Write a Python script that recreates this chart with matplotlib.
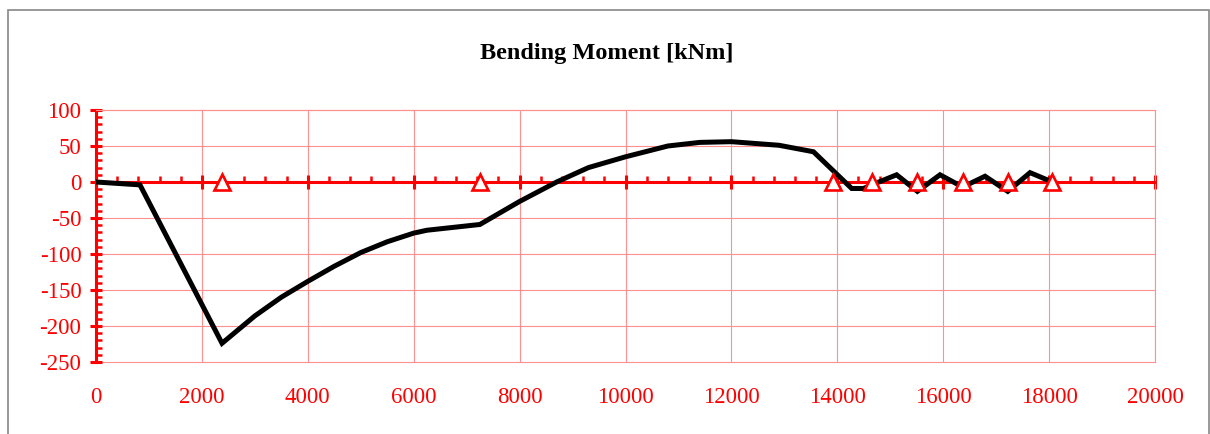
import matplotlib
matplotlib.use("Agg")
import matplotlib.pyplot as plt
import numpy as np
from matplotlib.ticker import MultipleLocator
from matplotlib.patches import Rectangle

# Data
pos_mm = [0, 830, 2380, 3000, 3500, 4000, 4500, 5000, 5500, 6000, 6250, 7250,
          8000, 8700, 9300, 10000, 10800, 11400, 12000, 12900, 13550,
          14272, 14495, 14650, 15120, 15512, 15940, 16369, 16790, 17219, 17640, 18062]
moment_knm = [0, -4, -224, -186, -160, -138, -117, -98, -83, -71, -67, -59,
              -27, 0, 20, 35, 50, 55, 56, 51, 42,
              -9, -9, -4, 10, -13, 10, -7, 8, -13, 13, 0]
support_pos = [2380, 7250, 13924, 14650, 15512, 16369, 17219, 18062]
support_val = [0, 0, 0, 0, 0, 0, 0, 0]

title = "Bending Moment [kNm]"
x_ticks = list(range(0, 20001, 2000))
y_ticks = list(range(-250, 101, 50))

plt.rcParams['font.family'] = ['Liberation Serif', 'DejaVu Serif']
plt.rcParams['axes.unicode_minus'] = False
RED = '#ff0000'
GRID = '#ff9090'

fig = plt.figure(figsize=(12.10, 4.34), dpi=100)
W, H = 1210, 434
ax = fig.add_axes([96 / W, (H - 362) / H, (1155 - 96) / W, (362 - 110) / H])

ax.set_xlim(0, 20000)
ax.set_ylim(-250, 100)

ax.xaxis.set_major_locator(MultipleLocator(2000))
ax.xaxis.set_minor_locator(MultipleLocator(400))
ax.yaxis.set_major_locator(MultipleLocator(50))
ax.yaxis.set_minor_locator(MultipleLocator(10))

ax.grid(which='major', color=GRID, linewidth=0.8, zorder=0)
ax.set_axisbelow(True)
for gl in ax.get_xgridlines() + ax.get_ygridlines():
    gl.set_clip_on(False)

for s in ['top', 'right']:
    ax.spines[s].set_color(GRID)
    ax.spines[s].set_linewidth(0.8)
ax.spines['bottom'].set_position(('data', 0))
ax.spines['bottom'].set_color(RED)
ax.spines['bottom'].set_linewidth(2.2)
ax.spines['left'].set_color(RED)
ax.spines['left'].set_linewidth(2.2)

# zero-line ticks
ax.tick_params(axis='x', which='major', direction='inout', length=10, width=2.2,
               color=RED, labelbottom=False)
ax.tick_params(axis='x', which='minor', direction='in', length=4.5, width=1.8, color=RED)
ax.tick_params(axis='y', which='major', direction='inout', length=9, width=2.2,
               color=RED, labelcolor=RED, labelsize=16.5, pad=6)
ax.tick_params(axis='y', which='minor', direction='in', length=4, width=1.8, color=RED)
ax.set_yticks(y_ticks)

# bottom labels
sec = ax.secondary_xaxis('bottom')
sec.set_xticks(x_ticks)
sec.set_xticklabels([str(v) for v in x_ticks])
sec.tick_params(length=0, labelcolor=RED, labelsize=16.5, pad=18)
sec.spines['bottom'].set_visible(False)

ax.plot(pos_mm, moment_knm, color='black', linewidth=3.6, zorder=3,
        solid_joinstyle='miter')
ax.plot(support_pos, support_val, linestyle='none', marker='^', markersize=12,
        markerfacecolor='white', markeredgecolor=RED, markeredgewidth=1.9,
        zorder=4, clip_on=False)

fig.text(607 / W, 1 - 53 / H, title, ha='center', va='center',
         fontsize=17.5, fontweight='bold', color='black')

fig.patches.append(Rectangle((8 / W, -0.1), (1209 - 8) / W, (H - 10) / H + 0.1,
                             transform=fig.transFigure, fill=False,
                             edgecolor='#888888', linewidth=1.2))

fig.savefig('out.png', dpi=100)
